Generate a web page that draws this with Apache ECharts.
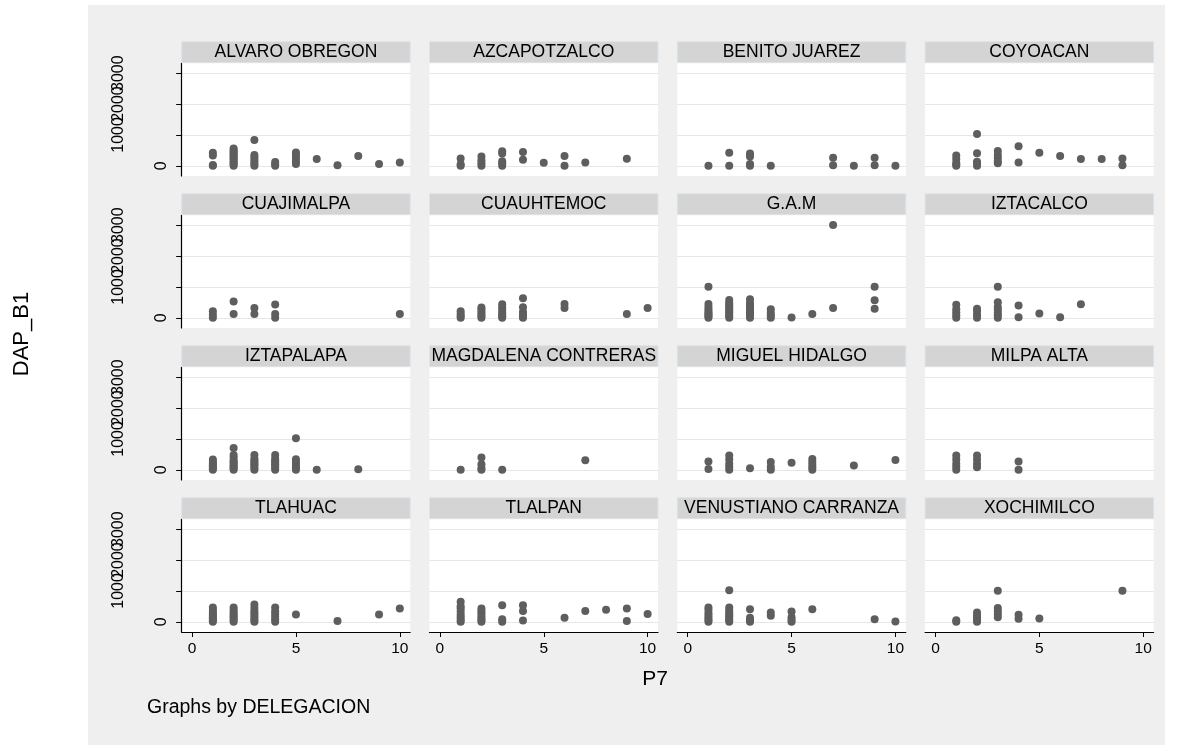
<!DOCTYPE html>
<html>
<head>
<meta charset="utf-8">
<script src="https://cdn.jsdelivr.net/npm/echarts@6/dist/echarts.min.js"></script>
<style>
  html, body { margin: 0; padding: 0; background: #ffffff; }
  #chart { width: 1181px; height: 745px; }
</style>
</head>
<body>
<div id="chart"></div>
<script>
// Panel titles (one panel per DELEGACION)
const delegaciones = [
  'ALVARO OBREGON', 'AZCAPOTZALCO', 'BENITO JUAREZ', 'COYOACAN',
  'CUAJIMALPA', 'CUAUHTEMOC', 'G.A.M', 'IZTACALCO',
  'IZTAPALAPA', 'MAGDALENA CONTRERAS', 'MIGUEL HIDALGO', 'MILPA ALTA',
  'TLAHUAC', 'TLALPAN', 'VENUSTIANO CARRANZA', 'XOCHIMILCO'
];

// Observations grouped by P7 value: [P7, [DAP_B1 values...]]
const alvaroObregon = [[1,[0,30,330,420]],[2,[0,50,100,150,200,250,300,350,400,450,500,560]],[3,[0,60,120,200,280,350,835]],[4,[0,50,120]],[5,[60,150,250,350,430]],[6,[220]],[7,[20]],[8,[320]],[9,[55]],[10,[110]]];
const azcapotzalco = [[1,[0,50,240]],[2,[0,80,180,300]],[3,[0,80,150,400,470]],[4,[200,450]],[5,[100]],[6,[0,320]],[7,[110]],[9,[230]]];
const benitoJuarez = [[1,[0]],[2,[0,420]],[3,[0,60,300,400]],[4,[0]],[7,[20,260]],[8,[0]],[9,[20,260]],[10,[0]]];
const coyoacan = [[1,[0,40,100,220,330]],[2,[0,100,130,410,1030]],[3,[80,150,250,350,480]],[4,[110,630]],[5,[420]],[6,[320]],[7,[220]],[8,[220]],[9,[20,240]]];
const cuajimalpa = [[1,[0,100,210]],[2,[120,530]],[3,[120,320]],[4,[0,120,430]],[10,[120]]];
const cuauhtemoc = [[1,[0,60,120,210]],[2,[0,60,120,200,270,330]],[3,[0,50,100,160,250,330,440]],[4,[0,50,120,190,340,630]],[6,[320,450]],[9,[120]],[10,[320]]];
const gam = [[1,[0,50,100,150,200,280,350,450,1010]],[2,[0,60,120,180,240,300,360,420,480,580]],[3,[0,60,120,180,240,300,360,420,480,600]],[4,[0,80,160,280]],[5,[10]],[6,[120]],[7,[320,3010]],[9,[290,570,1010]]];
const iztacalco = [[1,[0,80,180,280,420]],[2,[0,100,220,290]],[3,[0,80,160,250,350,500,1010]],[4,[20,400]],[5,[140]],[6,[20]],[7,[440]]];
const iztapalapa = [[1,[0,50,100,150,200,250,330]],[2,[0,50,100,150,200,250,300,400,480,710]],[3,[0,60,120,180,240,300,360,480]],[4,[0,60,120,180,240,300,360,480]],[5,[0,80,160,250,340,1020]],[6,[0]],[8,[20]]];
const magdalenaContreras = [[1,[0]],[2,[0,60,180,400]],[3,[0]],[7,[310]]];
const miguelHidalgo = [[1,[30,270]],[2,[0,100,200,330,460]],[3,[50]],[4,[0,100,250]],[5,[230]],[6,[0,80,160,250,350]],[8,[140]],[10,[320]]];
const milpaAlta = [[1,[0,100,200,330,460]],[2,[80,200,330,460]],[4,[0,270]]];
const tlahuac = [[1,[0,50,100,150,200,250,300,380,460]],[2,[0,60,120,180,240,300,380,460]],[3,[0,60,120,200,280,350,450,560]],[4,[0,80,160,250,340,460]],[5,[240]],[7,[30]],[9,[240]],[10,[430]]];
const tlalpan = [[1,[0,70,150,230,330,430,500,650]],[2,[0,60,120,200,280,350,430]],[3,[0,80,540]],[4,[40,350,540]],[6,[130]],[7,[350]],[8,[390]],[9,[30,430]],[10,[250]]];
const venustianoCarranza = [[1,[0,60,120,200,280,380,460]],[2,[0,60,120,180,240,300,380,460,1020]],[3,[0,60,130,410]],[4,[200,300]],[5,[0,60,150,330]],[6,[410]],[9,[80]],[10,[10]]];
const xochimilco = [[1,[0,50]],[2,[0,60,130,200,300]],[3,[150,250,350,450,1010]],[4,[100,230]],[5,[110]],[9,[1010]]];

const panelData = [
  alvaroObregon, azcapotzalco, benitoJuarez, coyoacan,
  cuajimalpa, cuauhtemoc, gam, iztacalco,
  iztapalapa, magdalenaContreras, miguelHidalgo, milpaAlta,
  tlahuac, tlalpan, venustianoCarranza, xochimilco
];

// Axis ticks
const xTicks = [0, 5, 10];
const yTicks = [0, 1000, 2000, 3000];

// Layout of the 4x4 panel grid (pixels)
const PLOT_LEFT = 181.7, COL_STEP = 247.8, PLOT_W = 228.5;
const PLOT_TOP = 63, ROW_STEP = 152, PLOT_H = 113, STRIP_H = 21;
const Y_MIN = -330, Y_MAX = 3330;
const FONT = '"Liberation Sans", Arial, Helvetica, sans-serif';
const MARKER = '#5e5e5e';
const plainNumber = v => String(v);

function toPoints(groups) {
  const pts = [];
  groups.forEach(([x, ys]) => ys.forEach(y => pts.push([x, y])));
  return pts;
}

const grids = [], xAxes = [], yAxes = [], series = [], graphics = [];

graphics.push({
  type: 'rect', z: -10, silent: true,
  shape: { x: 88, y: 5, width: 1077, height: 740 },
  style: { fill: '#efefef' }
});

// label-only y axis carrying a single tick label (labels overlap on purpose)
function labelAxis(gridIndex, value, margin) {
  return {
    type: 'value', gridIndex: gridIndex, min: Y_MIN, max: Y_MAX, position: 'left',
    axisLine: { show: false }, axisTick: { show: false }, splitLine: { show: false },
    axisLabel: { show: true, customValues: [value], rotate: 90, margin: margin, hideOverlap: false,
                 formatter: plainNumber, color: '#000', fontSize: 16, fontFamily: FONT }
  };
}

delegaciones.forEach((name, i) => {
  const r = Math.floor(i / 4), c = i % 4;
  const left = PLOT_LEFT + COL_STEP * c;
  const top = PLOT_TOP + ROW_STEP * r;
  grids.push({
    left: left, top: top, width: PLOT_W, height: PLOT_H,
    show: true, backgroundColor: '#ffffff', borderWidth: 0, containLabel: false
  });
  const bottomRow = r === 3, firstCol = c === 0;
  xAxes.push({
    type: 'value', gridIndex: i, min: -0.5, max: 10.5, position: 'bottom',
    axisLine: { show: bottomRow, onZero: false, lineStyle: { color: '#000', width: 1.2 } },
    axisTick: { show: bottomRow, length: 5, customValues: xTicks, lineStyle: { color: '#000', width: 1 } },
    axisLabel: { show: bottomRow, customValues: xTicks, margin: 9, hideOverlap: false, formatter: plainNumber,
                 color: '#000', fontSize: 15.5, fontFamily: FONT },
    splitLine: { show: false }
  });
  const yIdx = yAxes.length;
  yAxes.push({
    type: 'value', gridIndex: i, min: Y_MIN, max: Y_MAX, position: 'left',
    axisLine: { show: firstCol, onZero: false, lineStyle: { color: '#000', width: 1.2 } },
    axisTick: { show: firstCol, length: 5.5, customValues: yTicks, lineStyle: { color: '#000', width: 1 } },
    axisLabel: { show: false, customValues: yTicks },
    splitLine: { show: true, lineStyle: { color: '#e6e6e6', width: 1 } }
  });
  if (firstCol) {
    // zero sits close to the axis, the other labels further out
    yAxes.push(labelAxis(i, yTicks[0], 12));
    yTicks.slice(1).forEach(v => yAxes.push(labelAxis(i, v, 55)));
  }
  series.push({
    type: 'scatter', xAxisIndex: i, yAxisIndex: yIdx,
    data: toPoints(panelData[i]),
    symbol: 'circle', symbolSize: 8, clip: false, silent: true,
    itemStyle: { color: MARKER, opacity: 1 }
  });
  // strip header with the panel title
  graphics.push({
    type: 'rect', silent: true, z: 5,
    shape: { x: left, y: top - STRIP_H - 0.3, width: PLOT_W, height: STRIP_H },
    style: { fill: '#d4d4d4', stroke: '#dbe4ec', lineWidth: 1 }
  });
  graphics.push({
    type: 'text', silent: true, z: 6,
    x: left + PLOT_W / 2, y: top - STRIP_H / 2,
    style: { text: name, align: 'center', verticalAlign: 'middle', textAlign: 'center', textVerticalAlign: 'middle',
             fontSize: 17.5, fontFamily: FONT, fill: '#000' }
  });
});

// Axis titles and note
graphics.push({
  type: 'text', silent: true, z: 6, x: 22, y: 334, rotation: Math.PI / 2,
  style: { text: 'DAP_B1', align: 'center', verticalAlign: 'middle', textAlign: 'center', textVerticalAlign: 'middle',
           fontSize: 22, fontFamily: FONT, fill: '#000' }
});
graphics.push({
  type: 'text', silent: true, z: 6, x: 655, y: 679,
  style: { text: 'P7', align: 'center', verticalAlign: 'middle', textAlign: 'center', textVerticalAlign: 'middle',
           fontSize: 21, fontFamily: FONT, fill: '#000' }
});
graphics.push({
  type: 'text', silent: true, z: 6, x: 147, y: 708,
  style: { text: 'Graphs by DELEGACION', align: 'left', verticalAlign: 'middle', textAlign: 'left', textVerticalAlign: 'middle',
           fontSize: 19.5, fontFamily: FONT, fill: '#000' }
});

const chart = echarts.init(document.getElementById('chart'), null, { renderer: 'canvas' });
chart.setOption({
  backgroundColor: '#ffffff',
  animation: false,
  grid: grids,
  xAxis: xAxes,
  yAxis: yAxes,
  series: series,
  graphic: { elements: graphics }
});
</script>
</body>
</html>
